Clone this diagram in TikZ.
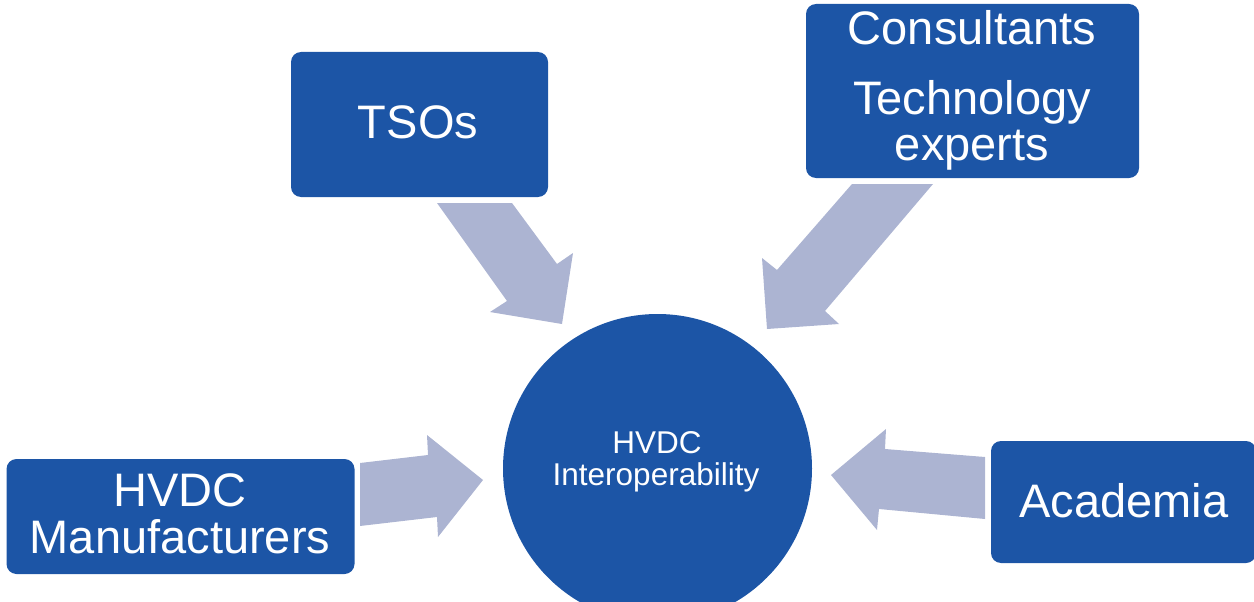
\documentclass[tikz,border=0pt]{standalone}
\usepackage{fontspec}
\setmainfont{Liberation Sans}
\definecolor{boxblue}{RGB}{28,85,166}
\definecolor{arrowgrey}{RGB}{172,180,210}
\tikzset{
  stakebox/.style={fill=boxblue, draw=none, rounded corners=10pt, inner sep=0pt},
  hub/.style={circle, fill=boxblue, draw=none, inner sep=0pt},
  bigtext/.style={text=white, anchor=base, inner sep=0pt, font=\fontsize{47}{47}\selectfont},
  smalltext/.style={text=white, anchor=base, inner sep=0pt, font=\fontsize{31.5}{32}\selectfont},
  blockarrow/.style={fill=arrowgrey, draw=none},
}
\begin{document}
\begin{tikzpicture}[x=1pt, y=-1pt]
\useasboundingbox (0,0) rectangle (1254,602);
\clip (0,0) rectangle (1254,602);

% stakeholder boxes
\node[stakebox, minimum width=257pt, minimum height=145pt] (tso) at (419.5,124.5) {};
\node[stakebox, minimum width=333pt, minimum height=174pt] (cons) at (972.5,91) {};
\node[stakebox, minimum width=348pt, minimum height=115pt] (manu) at (180.5,516.5) {};
\node[stakebox, minimum width=265pt, minimum height=122pt] (acad) at (1123.5,502) {};

% central circle
\node[hub, minimum size=309pt] (core) at (657.5,468.5) {};

% block arrows pointing at the centre
\fill[blockarrow] (437,203) -- (512,203) -- (557,264) -- (573,253) -- (562,324) -- (490,312) -- (507,301) -- cycle;
\fill[blockarrow] (852,184) -- (933,184) -- (825,311) -- (839,324) -- (767,329) -- (762,258) -- (777,270) -- cycle;
\fill[blockarrow] (360,463) -- (428,455) -- (427,435) -- (483,480) -- (438,537) -- (437,517) -- (360,526) -- cycle;
\fill[blockarrow] (985,457) -- (885,449) -- (886,429) -- (831,475) -- (877,530) -- (879,509) -- (985,519) -- cycle;

% labels
\node[bigtext] (tsolbl) at (418,139) {TSOs};
\node[bigtext] (conslbl) at (972,45) {Consultants};
\node[bigtext] (techlbl) at (972,114) {Technology};
\node[bigtext] (explbl) at (972,160) {experts};
\node[bigtext] (hvdclbl) at (180,506) {HVDC};
\node[bigtext] (manulbl) at (180,553) {Manufacturers};
\node[bigtext] (acadlbl) at (1124,517) {Academia};
\node[smalltext] (corelbla) at (657,453) {HVDC};
\node[smalltext] (corelblb) at (656,485) {Interoperability};
\end{tikzpicture}
\end{document}
